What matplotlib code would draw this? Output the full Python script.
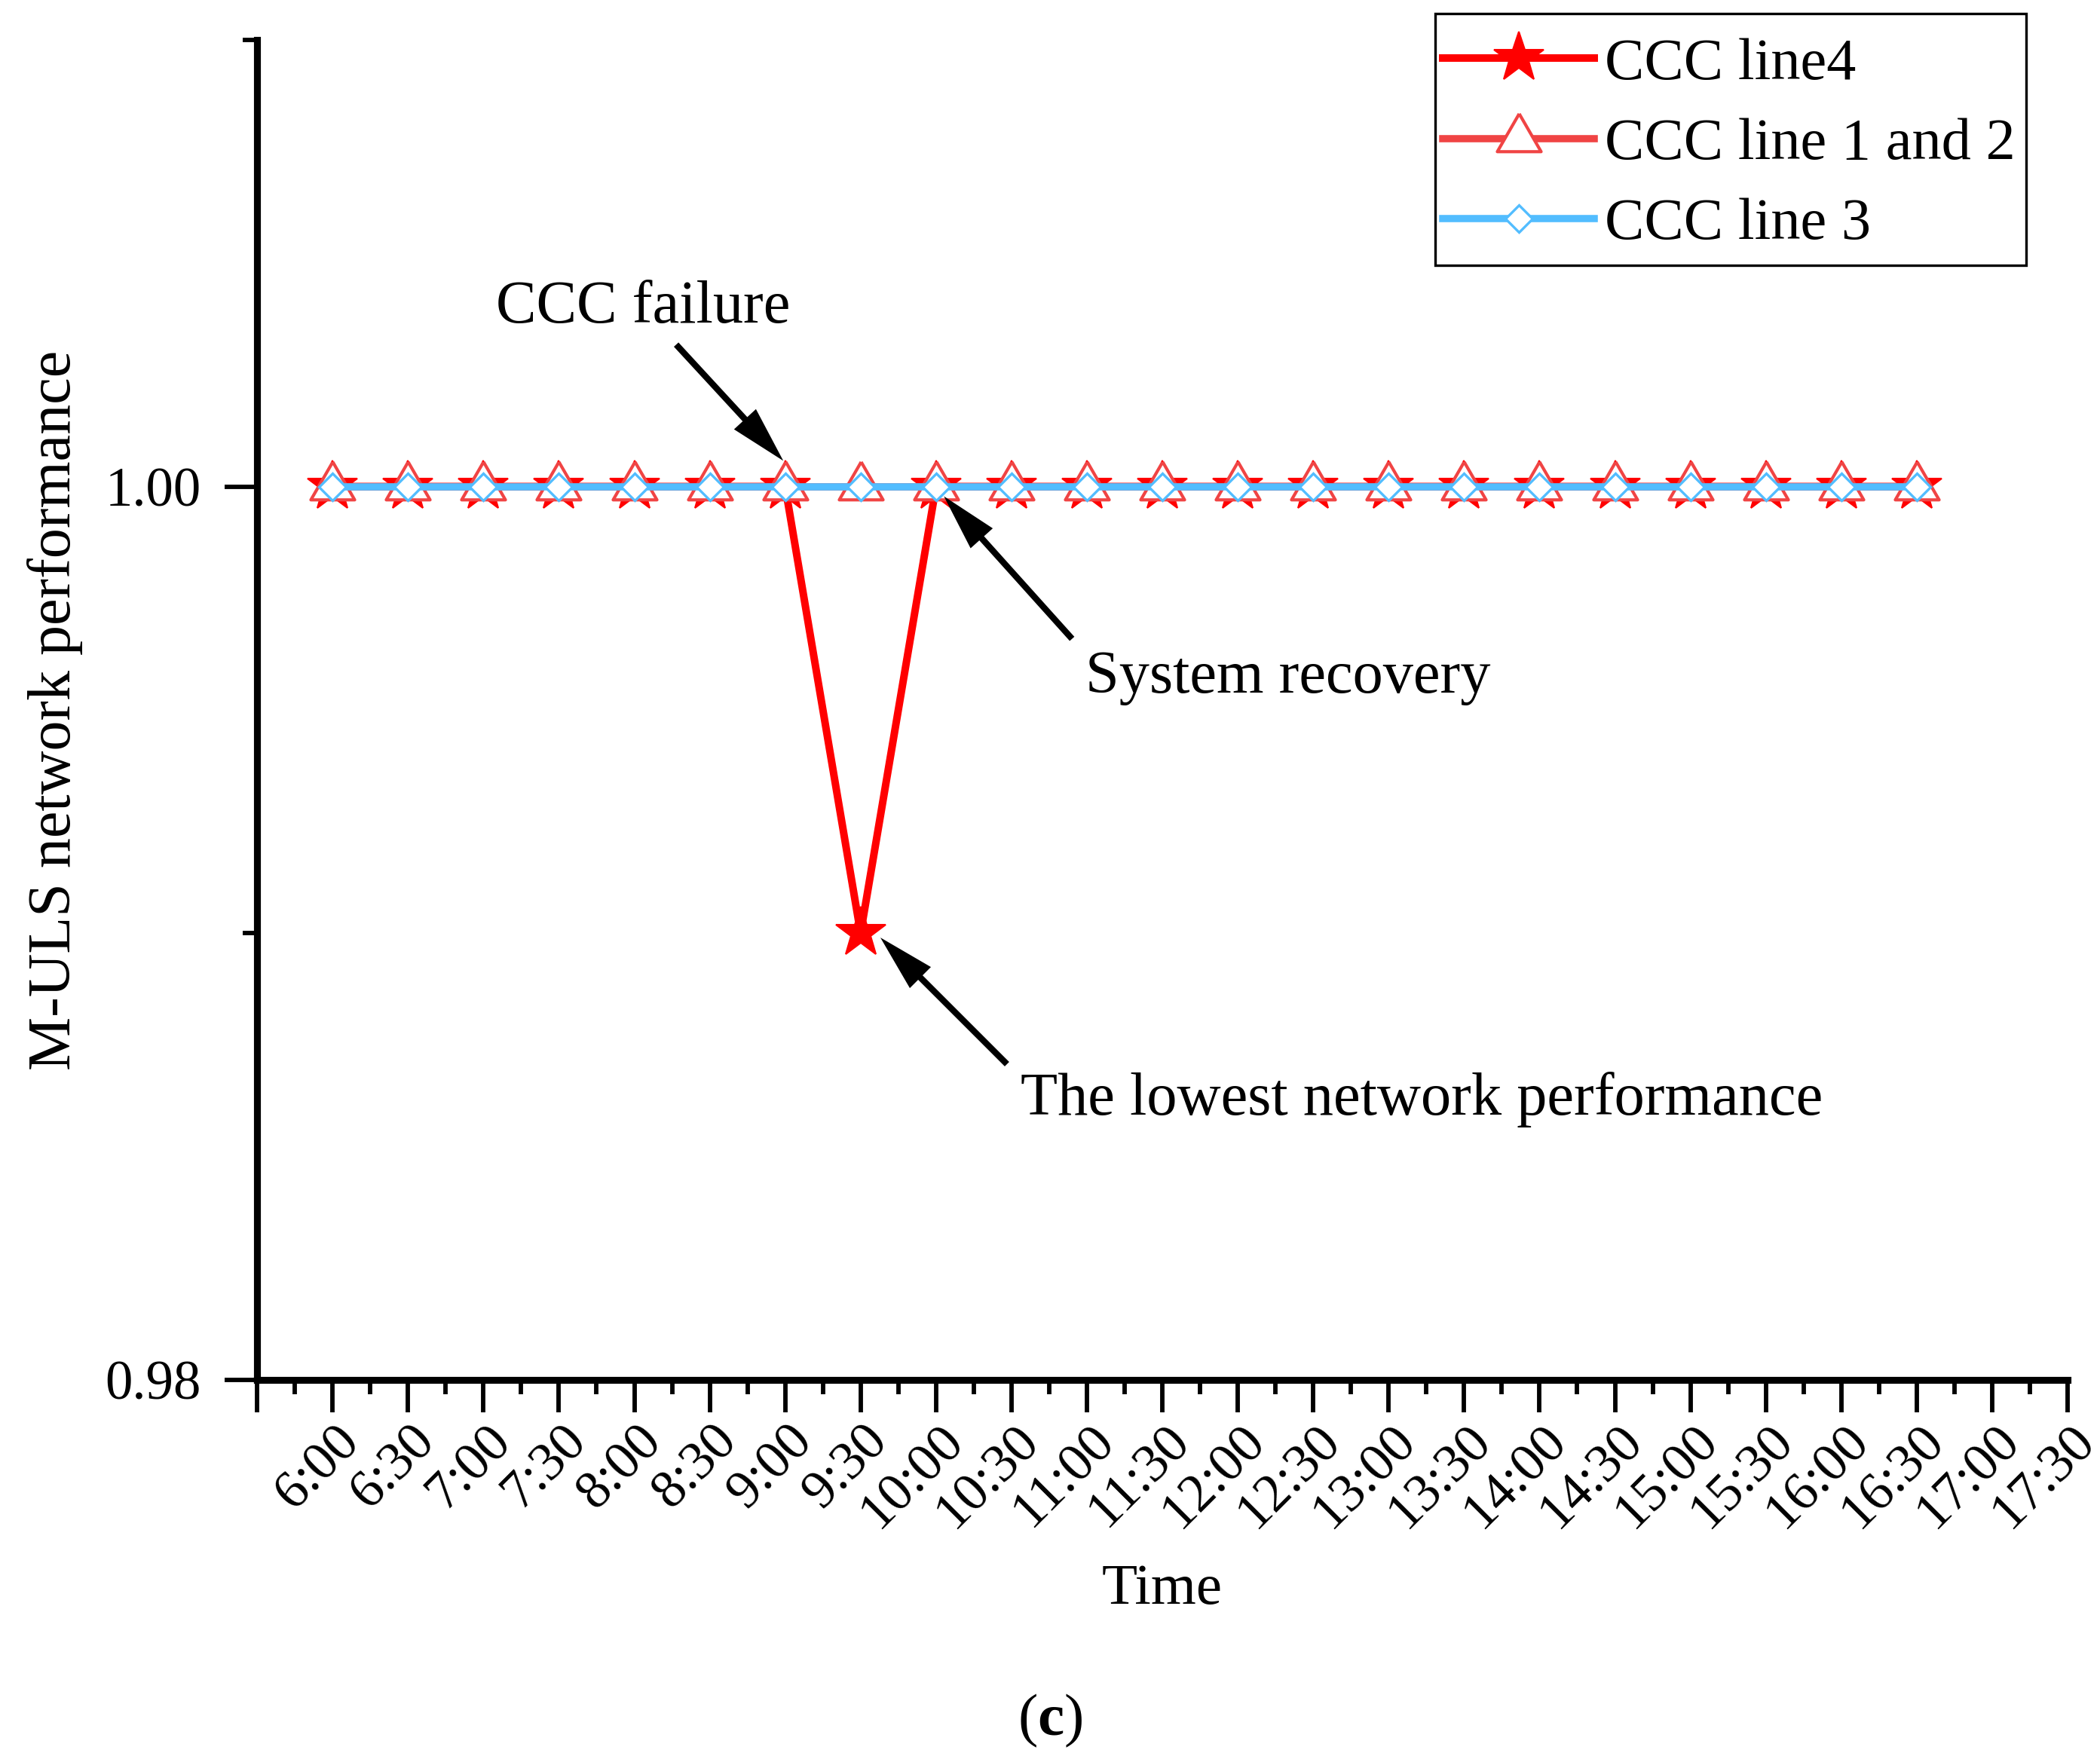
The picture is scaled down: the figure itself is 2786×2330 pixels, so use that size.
import numpy as np
import matplotlib
matplotlib.use('Agg')
import matplotlib.pyplot as plt
import matplotlib.transforms as mtransforms
from matplotlib.patches import Rectangle

plt.rcParams['font.family'] = 'Liberation Serif'
plt.rcParams['mathtext.fontset'] = 'custom'
plt.rcParams['mathtext.rm'] = 'Liberation Serif'
plt.rcParams['mathtext.bf'] = 'Liberation Serif:bold'

# half-hour sampling times
times = ['6:00', '6:30', '7:00', '7:30', '8:00', '8:30', '9:00', '9:30',
         '10:00', '10:30', '11:00', '11:30', '12:00', '12:30', '13:00',
         '13:30', '14:00', '14:30', '15:00', '15:30', '16:00', '16:30']
tick_labels = times + ['17:00', '17:30']

# M-ULS network performance per scenario
line4 = [1.00, 1.00, 1.00, 1.00, 1.00, 1.00, 1.00, 0.99, 1.00, 1.00, 1.00,
         1.00, 1.00, 1.00, 1.00, 1.00, 1.00, 1.00, 1.00, 1.00, 1.00, 1.00]
line12 = [1.00, 1.00, 1.00, 1.00, 1.00, 1.00, 1.00, 1.00, 1.00, 1.00, 1.00,
          1.00, 1.00, 1.00, 1.00, 1.00, 1.00, 1.00, 1.00, 1.00, 1.00, 1.00]
line3 = [1.00, 1.00, 1.00, 1.00, 1.00, 1.00, 1.00, 1.00, 1.00, 1.00, 1.00,
         1.00, 1.00, 1.00, 1.00, 1.00, 1.00, 1.00, 1.00, 1.00, 1.00, 1.00]

i_fail = times.index('9:00')
i_low = times.index('9:30')
i_rec = times.index('10:00')

red = '#FF0000'
red2 = '#F04444'
blue = '#52BDFF'

# equilateral triangle (Origin style), centred on its centroid
tri = [(0, 1), (-0.866, -0.5), (0.866, -0.5), (0, 1)]

fig = plt.figure(figsize=(2787 / 300, 2330 / 300), dpi=300)
ax = fig.add_axes([0.1224, 0.2142, 0.8618, 0.7631])

x = np.arange(len(times))
ax.plot(x, line4, color=red, lw=2.4, marker='*', ms=16.7, mec=red, mfc=red,
        mew=0.5, label='CCC line4', zorder=3)
ax.plot(x, line12, color=red2, lw=2.3, marker=tri, ms=16.1, mec=red2,
        mfc='white', mew=1.0, label='CCC line 1 and 2', zorder=4)
ax.plot(x, line3, color=blue, lw=2.3, marker='D', ms=6.1, mec=blue,
        mfc='white', mew=0.8, label='CCC line 3', zorder=5)

ax.set_xlim(-1, len(tick_labels) - 1)
ax.set_ylim(0.98, 1.01)

ax.set_xticks(np.arange(-1, len(tick_labels)))
ax.set_xticklabels([''] + tick_labels, rotation=45, ha='right', va='center',
                   rotation_mode='anchor')
ax.set_xticks(np.arange(-0.5, len(tick_labels) - 1, 1.0), minor=True)
ax.set_yticks([0.98, 1.00])
ax.set_yticklabels(['0.98', '1.00'])
ax.set_yticks([0.99, 1.01], minor=True)

for s in ['top', 'right']:
    ax.spines[s].set_visible(False)
for s in ['left', 'bottom']:
    ax.spines[s].set_linewidth(2.2)

ax.tick_params(axis='both', which='major', direction='out', length=10.3,
               width=1.4, labelsize=17.5)
ax.tick_params(axis='x', which='major', labelsize=17.2)
ax.tick_params(axis='both', which='minor', direction='out', length=4.6,
               width=1.4)
ax.tick_params(axis='x', which='major', pad=11)
ax.tick_params(axis='y', which='major', pad=7.5)

# nudge the slanted time labels right/up like the original
shift = mtransforms.ScaledTranslation(6.3 / 72, 4.3 / 72, fig.dpi_scale_trans)
for lab in ax.get_xticklabels():
    lab.set_transform(lab.get_transform() + shift)

ax.set_xlabel('Time', fontsize=18.5)
ax.xaxis.set_label_coords(0.5, -0.137)
ax.set_ylabel('M-ULS network performance', fontsize=19.2)
ax.yaxis.set_label_coords(-0.0962, 0.5)

# arrows: tip offset (points) from the data point, tail relative to tip
arrow_kw = dict(facecolor='black', edgecolor='black', lw=0, width=2,
                headwidth=9.5, headlength=18, shrink=0)


def pointer(i, v, dx, dy, tx, ty):
    tip = mtransforms.offset_copy(ax.transData, fig=fig, x=dx, y=dy,
                                  units='points')
    ax.annotate('', xy=(i, v), xycoords=tip, xytext=(tx, ty),
                textcoords='offset points', arrowprops=arrow_kw, zorder=6)


pointer(i_fail, line4[i_fail], -0.6, 8.2, -34.1, 37.0)
pointer(i_rec, line4[i_rec], 2.5, -3.1, 40.8, -45.4)
pointer(i_low, line4[i_low], 6.3, -1.4, 40.3, -40.3)

ax.text(2.168, 1.003676, 'CCC failure', fontsize=19.3, va='baseline')
ax.text(9.982, 0.995379, 'System recovery', fontsize=19.3, va='baseline')
ax.text(9.123, 0.985936, 'The lowest network performance', fontsize=19.3,
        va='baseline')

# legend entries without frame, square frame drawn separately
leg = ax.legend(loc='upper left', bbox_to_anchor=(1914 / 2787, 1 - 50 / 2330),
                bbox_transform=fig.transFigure, fontsize=18.8, frameon=False,
                borderpad=0, handlelength=2.57, handletextpad=0.18,
                labelspacing=0.44, borderaxespad=0, numpoints=1)
fig.patches.append(Rectangle((0.6832, 0.8489), 0.2813, 0.1433,
                             transform=fig.transFigure, fill=False,
                             edgecolor='black', lw=0.8))

fig.text(0.5, 0.012, r'($\mathbf{c}$)', fontsize=19, ha='center',
         va='baseline')

fig.savefig('out.png', dpi=300)
